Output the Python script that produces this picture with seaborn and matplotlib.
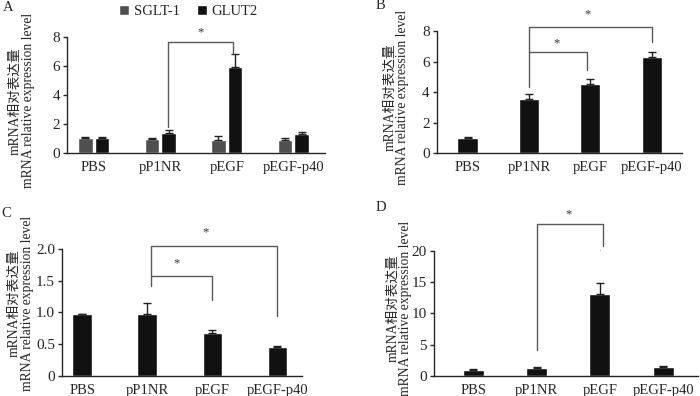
import numpy as np
import pandas as pd
import seaborn as sns
import matplotlib.pyplot as plt

# groups on the x axis (same for all four panels)
groups = ["PBS", "pP1NR", "pEGF", "pEGF-p40"]

# panel A: two genes
a_sglt = [1.05, 0.95, 0.92, 0.92]
a_sglt_err = [0.04, 0.07, 0.25, 0.12]
a_glut = [1.05, 1.40, 5.90, 1.32]
a_glut_err = [0.03, 0.18, 0.90, 0.15]

# panels B, C, D: single series
b_vals = [1.00, 3.55, 4.55, 6.30]
b_err = [0.02, 0.30, 0.30, 0.30]
c_vals = [0.97, 0.97, 0.67, 0.46]
c_err = [0.01, 0.18, 0.06, 0.01]
d_vals = [1.00, 1.20, 13.10, 1.40]
d_err = [0.10, 0.20, 1.70, 0.20]

sns.set_style("ticks")
plt.rcParams["font.family"] = ["Liberation Serif", "Noto Sans CJK SC"]
plt.rcParams["axes.linewidth"] = 1.0

ylabel = "mRNA相对表达量\nmRNA relative expression level"
bracket_color = "#5a5a5a"

fig = plt.figure(figsize=(7, 3.96), dpi=100)
axA = fig.add_axes([0.0957, 0.6136, 0.369, 0.293])
axB = fig.add_axes([0.624, 0.6136, 0.350, 0.308])
axC = fig.add_axes([0.0886, 0.0505, 0.343, 0.321])
axD = fig.add_axes([0.620, 0.0505, 0.377, 0.316])


def add_errors(ax, container, err):
    for bar, e in zip(container, err):
        x = bar.get_x() + bar.get_width() / 2
        ax.errorbar(x, bar.get_height(), yerr=[[0], [e]], fmt="none",
                    ecolor="#222222", elinewidth=1.0, capsize=3, capthick=1.0)


def bracket(ax, x1, x2, y1, ytop, y2, star_y, star_x=None):
    ax.plot([x1, x1, x2, x2], [y1, ytop, ytop, y2], color=bracket_color,
            lw=1.0, clip_on=False)
    if star_x is None:
        star_x = (x1 + x2) / 2
    ax.text(star_x, star_y, "*", ha="center", va="center", fontsize=9,
            color="#333333", clip_on=False)


def style(ax, ylim, yticks, yticklabels, xlim, letter, lx, ly, lab_x, lab_y):
    ax.set_ylim(*ylim)
    ax.set_yticks(yticks)
    ax.set_yticklabels(yticklabels)
    ax.set_xlim(*xlim)
    ax.set_xlabel("")
    ax.set_ylabel(ylabel, fontsize=9.8, linespacing=1.0)
    ax.yaxis.set_label_coords(lab_x, lab_y)
    ax.tick_params(axis="y", length=3, width=1, labelsize=11, pad=2)
    ax.tick_params(axis="x", length=0, labelsize=10.5, pad=6)
    sns.despine(ax=ax)
    fig.text(lx, ly, letter, fontsize=10.5, ha="left", va="center")


# --- A ---
dfA = pd.DataFrame({
    "group": groups * 2,
    "gene": ["SGLT-1"] * 4 + ["GLUT2"] * 4,
    "value": a_sglt + a_glut,
})
sns.barplot(data=dfA, x="group", y="value", hue="gene",
            palette=["#4f4f4f", "#111111"], width=0.5, gap=0.12,
            errorbar=None, ax=axA, saturation=1)
add_errors(axA, axA.containers[0], a_sglt_err)
add_errors(axA, axA.containers[1], a_glut_err)
style(axA, (0, 8), [0, 2, 4, 6, 8], ["0", "2", "4", "6", "8"],
      (-0.4, 3.48), "A", 0.004, 0.98, -0.125, 0.45)
bracket(axA, 1.12, 2.1, 1.8, 7.65, 6.85, 8.3)
axA.legend(loc="center", bbox_to_anchor=(0.47, 1.22), ncol=2, frameon=False,
           fontsize=10.5, handlelength=0.7, handleheight=0.7,
           handletextpad=0.3, columnspacing=1.2)

# --- B ---
sns.barplot(x=groups, y=b_vals, color="#111111", width=0.33,
            errorbar=None, ax=axB, saturation=1)
add_errors(axB, axB.containers[0], b_err)
style(axB, (0, 8), [0, 2, 4, 6, 8], ["0", "2", "4", "6", "8"],
      (-0.5, 3.49), "B", 0.537, 0.985, -0.112, 0.46)
bracket(axB, 1.0, 1.95, 4.35, 6.6, 5.45, 7.2, star_x=1.45)
bracket(axB, 1.0, 3.0, 6.6, 8.28, 7.3, 9.1, star_x=1.95)

# --- C ---
sns.barplot(x=groups, y=c_vals, color="#111111", width=0.3,
            errorbar=None, ax=axC, saturation=1)
add_errors(axC, axC.containers[0], c_err)
style(axC, (0, 2.0), [0, 0.5, 1.0, 1.5, 2.0], ["0", "0.5", "1.0", "1.5", "2.0"],
      (-0.31, 3.38), "C", 0.002, 0.462, -0.118, 0.57)
bracket(axC, 1.05, 2.0, 1.41, 1.58, 1.19, 1.77, star_x=1.45)
bracket(axC, 1.05, 3.0, 1.58, 2.05, 0.94, 2.26, star_x=1.9)

# --- D ---
sns.barplot(x=groups, y=d_vals, color="#111111", width=0.33,
            errorbar=None, ax=axD, saturation=1)
add_errors(axD, axD.containers[0], d_err)
style(axD, (0, 20), [0, 5, 10, 15, 20], ["0", "5", "10", "15", "20"],
      (-0.62, 3.55), "D", 0.537, 0.475, -0.083, 0.54)
bracket(axD, 1.0, 2.05, 4.2, 24.3, 20.85, 25.9, star_x=1.5)
axD.text(2.0, 19.6, "ˈ", ha="center", va="center", fontsize=6,
         color="#777777", clip_on=False)

fig.savefig("out.png", dpi=100)
